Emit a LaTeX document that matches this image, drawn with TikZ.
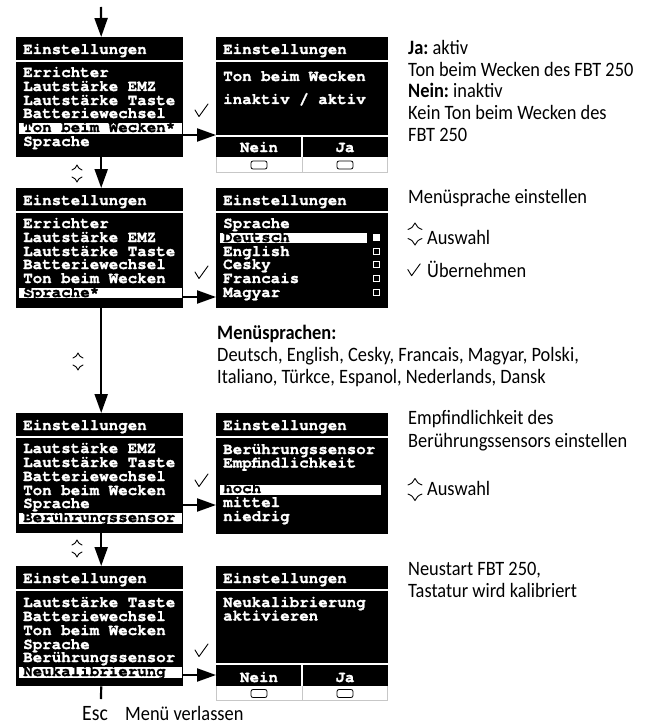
\documentclass[tikz,border=0pt]{standalone}
\usepackage{fontspec}
\setmainfont{Carlito}[FakeStretch=0.9]
\setmonofont{TeX Gyre Cursor}[BoldFeatures={FakeBold=1.2}]
\usetikzlibrary{arrows.meta}
\begin{document}
\begin{tikzpicture}[x=1bp,y=-1bp,
  scrL/.style={fill=black,anchor=north west,inner sep=0,minimum width=167bp,minimum height=120bp},
  scrR/.style={fill=black,anchor=north west,inner sep=0,minimum width=172bp,minimum height=120bp},
  mono/.style={font=\ttfamily\bfseries\fontsize{15.9}{14}\selectfont,text=white,anchor=base west,inner sep=0},
  monob/.style={mono,text=black},
  monoc/.style={mono,anchor=base},
  sans/.style={font=\fontsize{20.5}{22}\selectfont,anchor=base west,inner sep=0,text=black},
  arr/.style={line width=2.2bp,-{Triangle[length=19bp,width=13bp]}},
  sepl/.style={white,line width=2bp},
  hl/.style={fill=white},
  thin/.style={line width=0.9bp,line cap=round,line join=round},
  updown/.pic={\draw[thin] (-5,-3.5) to[bend right=25] (0,-8.5) to[bend right=25] (5,-3.5); \draw[thin] (-5,3.5) to[bend left=25] (0,8.5) to[bend left=25] (5,3.5);},
  checkm/.pic={\draw[thin] (-6.5,-0.5) -- (-2.5,6) -- (6.5,-6.5);},
  btn/.style={line width=0.8bp,rounded corners=2bp},
  graybox/.style={draw=black!22,line width=0.8bp},
]
\useasboundingbox (0,0) rectangle (657,725);

% ---------- Screen 1 ----------
\node[scrL] (L1) at (16,37) {};
\draw[sepl] (16,61) -- (183,61);
\node[mono] (l1h) at (23,54) {Einstellungen};
\node[mono] (l1a) at (23,77) {Errichter};
\node[mono] (l1b) at (23,91) {Lautstärke EMZ};
\node[mono] (l1c) at (23,105) {Lautstärke Taste};
\node[mono] (l1d) at (23,118) {Batteriewechsel};
\fill[hl] (19,123) rectangle (182,133.5);
\node[monob] (l1e) at (23,132) {Ton beim Wecken*};
\node[mono] (l1f) at (23,146) {Sprache};

\node[scrR] (R1) at (216,37) {};
\draw[sepl] (216,61) -- (388,61);
\node[mono] (r1h) at (223,54) {Einstellungen};
\node[mono] (r1a) at (223,81) {Ton beim Wecken};
\node[mono] (r1b) at (223,104) {inaktiv / aktiv};
\draw[sepl] (216,136) -- (388,136);
\draw[sepl] (302,137) -- (302,157);
\node[monoc] (r1n) at (259,152) {Nein};
\node[monoc] (r1j) at (345,152) {Ja};
\draw[graybox] (216.4,157) -- (216.4,172.6) -- (387.6,172.6) -- (387.6,157);
\draw[graybox] (302,157) -- (302,172.6);
\draw[btn] (251,161) rectangle (267,169);
\draw[btn] (337,161) rectangle (353,169);

\coordinate (a1) at (200,135);
\draw[arr] (L1.east |- a1) -- (R1.west |- a1);
\pic at (201.5,110.5) {checkm};

% ---------- Screen 2 ----------
\node[scrL] (L2) at (16,188) {};
\draw[sepl] (16,212) -- (183,212);
\node[mono] (l2h) at (23,205) {Einstellungen};
\node[mono] (l2a) at (23,228) {Errichter};
\node[mono] (l2b) at (23,242) {Lautstärke EMZ};
\node[mono] (l2c) at (23,256) {Lautstärke Taste};
\node[mono] (l2d) at (23,269) {Batteriewechsel};
\node[mono] (l2e) at (23,283) {Ton beim Wecken};
\fill[hl] (19,287.5) rectangle (182,298);
\node[monob] (l2f) at (23,297) {Sprache*};

\node[scrR] (R2) at (216,188) {};
\draw[sepl] (216,212) -- (388,212);
\node[mono] (r2h) at (223,205) {Einstellungen};
\node[mono] (r2a) at (223,228) {Sprache};
\fill[hl] (220,233) rectangle (367,243);
\node[monob] (r2b) at (223,242) {Deutsch};
\node[mono] (r2c) at (223,256) {English};
\node[mono] (r2d) at (223,269) {Cesky};
\node[mono] (r2e) at (223,283) {Francais};
\node[mono] (r2f) at (223,297) {Magyar};
\fill[white] (373,234) rectangle (380,241);
\draw[white,line width=0.8bp] (373.4,248.4) rectangle (379.6,254.6);
\draw[white,line width=0.8bp] (373.4,261.4) rectangle (379.6,267.6);
\draw[white,line width=0.8bp] (373.4,275.4) rectangle (379.6,281.6);
\draw[white,line width=0.8bp] (373.4,289.4) rectangle (379.6,295.6);

\coordinate (a2) at (200,297);
\draw[arr] (L2.east |- a2) -- (R2.west |- a2);
\pic at (201.5,272.5) {checkm};

\draw[arr] ([xshift=1.5bp]L1.south) -- ([xshift=1.5bp]L2.north);
\pic at (77,173.5) {updown};

% ---------- Screen 3 ----------
\node[scrL] (L3) at (16,413) {};
\draw[sepl] (16,437) -- (183,437);
\node[mono] (l3h) at (23,430) {Einstellungen};
\node[mono] (l3a) at (23,453) {Lautstärke EMZ};
\node[mono] (l3b) at (23,467) {Lautstärke Taste};
\node[mono] (l3c) at (23,481) {Batteriewechsel};
\node[mono] (l3d) at (23,495) {Ton beim Wecken};
\node[mono] (l3e) at (23,508) {Sprache};
\fill[hl] (19,513) rectangle (182,523.5);
\node[monob] (l3f) at (23,522) {Berührungssensor};

\node[scrR,minimum height=121bp] (R3) at (216,413) {};
\draw[sepl] (216,437) -- (388,437);
\node[mono] (r3h) at (223,430) {Einstellungen};
\node[mono] (r3a) at (223,454) {Berührungssensor};
\node[mono] (r3b) at (223,467.5) {Empfindlichkeit};
\fill[hl] (220,484.5) rectangle (381,494.5);
\node[monob] (r3c) at (223,493) {hoch};
\node[mono] (r3d) at (223,507) {mittel};
\node[mono] (r3e) at (223,521) {niedrig};

\coordinate (a3) at (200,505);
\draw[arr] (L3.east |- a3) -- (R3.west |- a3);
\pic at (201.5,480.5) {checkm};

\draw[arr] ([xshift=1.5bp]L2.south) -- ([xshift=1.5bp]L3.north);
\pic at (78,361.5) {updown};

% ---------- Screen 4 ----------
\node[scrL] (L4) at (16,566) {};
\draw[sepl] (16,590) -- (183,590);
\node[mono] (l4h) at (23,583) {Einstellungen};
\node[mono] (l4a) at (23,607) {Lautstärke Taste};
\node[mono] (l4b) at (23,621) {Batteriewechsel};
\node[mono] (l4c) at (23,635) {Ton beim Wecken};
\node[mono] (l4d) at (23,649) {Sprache};
\node[mono] (l4e) at (23,662) {Berührungssensor};
\fill[hl] (19,667) rectangle (182,677.5);
\node[monob] (l4f) at (23,676) {Neukalibrierung};

\node[scrR] (R4) at (216,566) {};
\draw[sepl] (216,590) -- (388,590);
\node[mono] (r4h) at (223,583) {Einstellungen};
\node[mono] (r4a) at (223,607) {Neukalibrierung};
\node[mono] (r4b) at (223,620.5) {aktivieren};
\draw[sepl] (216,664) -- (388,664);
\draw[sepl] (302,665) -- (302,686);
\node[monoc] (r4n) at (259,682) {Nein};
\node[monoc] (r4j) at (345,682) {Ja};
\draw[graybox] (216.4,686) -- (216.4,700.6) -- (387.6,700.6) -- (387.6,686);
\draw[graybox] (302,686) -- (302,700.6);
\draw[btn] (251,689.5) rectangle (267,697.5);
\draw[btn] (337,689.5) rectangle (353,697.5);

\coordinate (a4) at (200,675);
\draw[arr] (L4.east |- a4) -- (R4.west |- a4);
\pic at (201.5,650.5) {checkm};

\draw[arr] ([xshift=1.5bp]L3.south) -- ([xshift=1.5bp]L4.north);
\pic at (77,548.5) {updown};

% top arrow and exit
\coordinate (topstart) at (101,7);
\draw[arr] (topstart) -- ([xshift=1.5bp]L1.north);
\coordinate (escend) at (101,699);
\draw[line width=2.2bp] ([xshift=1.5bp]L4.south) -- (escend);
\node[sans,font=\fontsize{22}{22}\selectfont] (esc) at (82,720) {Esc};
\node[sans] (escl) at (125,720) {Menü verlassen};

% ---------- Right texts ----------
\node[sans] (t1) at (408,55) {\bfseries Ja:\mdseries\ aktiv};
\node[sans] (t2) at (408,77) {Ton beim Wecken des FBT 250};
\node[sans] (t3) at (408,98) {\bfseries Nein:\mdseries\ inaktiv};
\node[sans] (t4) at (408,120) {Kein Ton beim Wecken des};
\node[sans] (t5) at (408,142) {FBT 250};

\node[sans] (t6) at (408,203) {Menüsprache einstellen};
\pic[xscale=1.4,yscale=1.3] at (415,234) {updown};
\node[sans] (t7) at (427,244) {Auswahl};
\pic[scale=0.95] at (414,270) {checkm};
\node[sans] (t8) at (427,277) {Übernehmen};

\node[sans] (t9) at (217,339) {\bfseries Menüsprachen:};
\node[sans] (t10) at (217,361) {Deutsch, English, Cesky, Francais, Magyar, Polski,};
\node[sans] (t11) at (217,383) {Italiano, Türkce, Espanol, Nederlands, Dansk};

\node[sans] (t12) at (408,424) {Empfindlichkeit des};
\node[sans] (t13) at (408,447) {Berührungssensors einstellen};
\pic[xscale=1.4,yscale=1.3] at (415,489.5) {updown};
\node[sans] (t14) at (427,495) {Auswahl};

\node[sans] (t15) at (408,575) {Neustart FBT 250,};
\node[sans] (t16) at (408,597) {Tastatur wird kalibriert};
\end{tikzpicture}
\end{document}
